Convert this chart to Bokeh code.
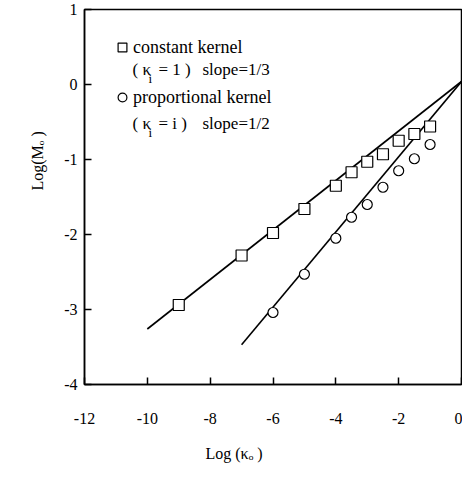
import math
from bokeh.plotting import figure
from bokeh.models import Range1d, FixedTicker, Label, Legend, LegendItem, Title
from bokeh.embed import file_html
from bokeh.resources import INLINE

# ---- data ----
const_logk = [-9, -7, -6, -5, -4, -3.5, -3, -2.5, -2, -1.5, -1]
const_logM = [-2.94, -2.28, -1.98, -1.66, -1.35, -1.17, -1.03, -0.93, -0.75, -0.66, -0.56]
prop_logk = [-6, -5, -4, -3.5, -3, -2.5, -2, -1.5, -1]
prop_logM = [-3.04, -2.53, -2.05, -1.77, -1.60, -1.37, -1.15, -0.99, -0.80]
const_fit_logk = [-10, 0]
const_fit_logM = [-3.26, 0.04]
prop_fit_logk = [-7, 0]
prop_fit_logM = [-3.47, 0.04]
x_ticks = [-12, -10, -8, -6, -4, -2, 0]
y_ticks = [-4, -3, -2, -1, 0, 1]
series_names = ["constant kernel", "proportional kernel"]
series_notes = [("= 1 )", "slope=1/3"), ("= i )", "slope=1/2")]
x_title = "Log (κₒ )"
y_title = "Log(Mₒ )"

FONT = "Liberation Serif"

p = figure(frame_width=377, frame_height=375,
           x_range=Range1d(-12, 0), y_range=Range1d(-4, 1),
           output_backend="svg", toolbar_location=None,
           min_border_left=84, min_border_right=1,
           min_border_top=9, min_border_bottom=86)
p.grid.visible = False
p.outline_line_color = "black"
p.outline_line_width = 1.5
p.background_fill_color = "white"
p.border_fill_color = "white"

for ax in (p.xaxis, p.yaxis):
    ax.axis_line_color = "black"
    ax.axis_line_width = 1.5
    ax.major_tick_in = 7
    ax.major_tick_out = 0
    ax.major_tick_line_width = 1.5
    ax.minor_tick_line_color = None
    ax.major_label_text_font = FONT
    ax.major_label_text_font_size = "16px"
    ax.major_label_text_color = "black"

p.xaxis.ticker = FixedTicker(ticks=x_ticks)
p.xaxis.major_label_overrides = {v: str(v) for v in x_ticks}
p.xaxis.major_label_standoff = 28
p.yaxis.ticker = FixedTicker(ticks=y_ticks)
p.yaxis.major_label_overrides = {v: str(v) for v in y_ticks}
p.yaxis.major_label_standoff = 7

# fitted lines
p.line(const_fit_logk, const_fit_logM, line_color="black", line_width=1.6)
p.line(prop_fit_logk, prop_fit_logM, line_color="black", line_width=1.6)

# data markers
r1 = p.scatter(const_logk, const_logM, marker="square", size=11,
               fill_color="white", line_color="black", line_width=1.2)
r2 = p.scatter(prop_logk, prop_logM, marker="circle", size=10,
               fill_color="white", line_color="black", line_width=1.2)

legend = Legend(items=[LegendItem(label=series_names[0], renderers=[r1]),
                       LegendItem(label=series_names[1], renderers=[r2])],
                location="top_left", margin=27, padding=0,
                glyph_width=22, glyph_height=22, label_standoff=0,
                label_height=22, spacing=28,
                border_line_color=None, background_fill_alpha=0,
                label_text_font=FONT, label_text_font_size="18px",
                label_text_color="black")
p.add_layout(legend)


def txt(x, y, s, size="17px"):
    p.add_layout(Label(x=x, y=y, x_units="canvas", y_units="canvas", text=s,
                       text_font=FONT, text_font_size=size, text_color="black",
                       text_baseline="alphabetic", text_align="left"))


# second legend lines: ( kappa_i = ... )   slope=...
for (note, yb) in zip(series_notes, (69, 123)):
    txt(132, yb, "( κ")
    txt(148, yb + 9, "i", size="13px")
    txt(158, yb, note[0])
    txt(202, yb, note[1])

# axis titles (side-panel titles so they are not clipped by the frame)
p.add_layout(Title(text=x_title, align="left", offset=121, standoff=33,
                   text_font=FONT, text_font_size="16px",
                   text_font_style="normal", text_color="black"), "below")
p.add_layout(Title(text=y_title, align="left", offset=194, standoff=31,
                   text_font=FONT, text_font_size="16px",
                   text_font_style="normal", text_color="black"), "left")

open("out.html", "w").write(file_html(p, INLINE))
